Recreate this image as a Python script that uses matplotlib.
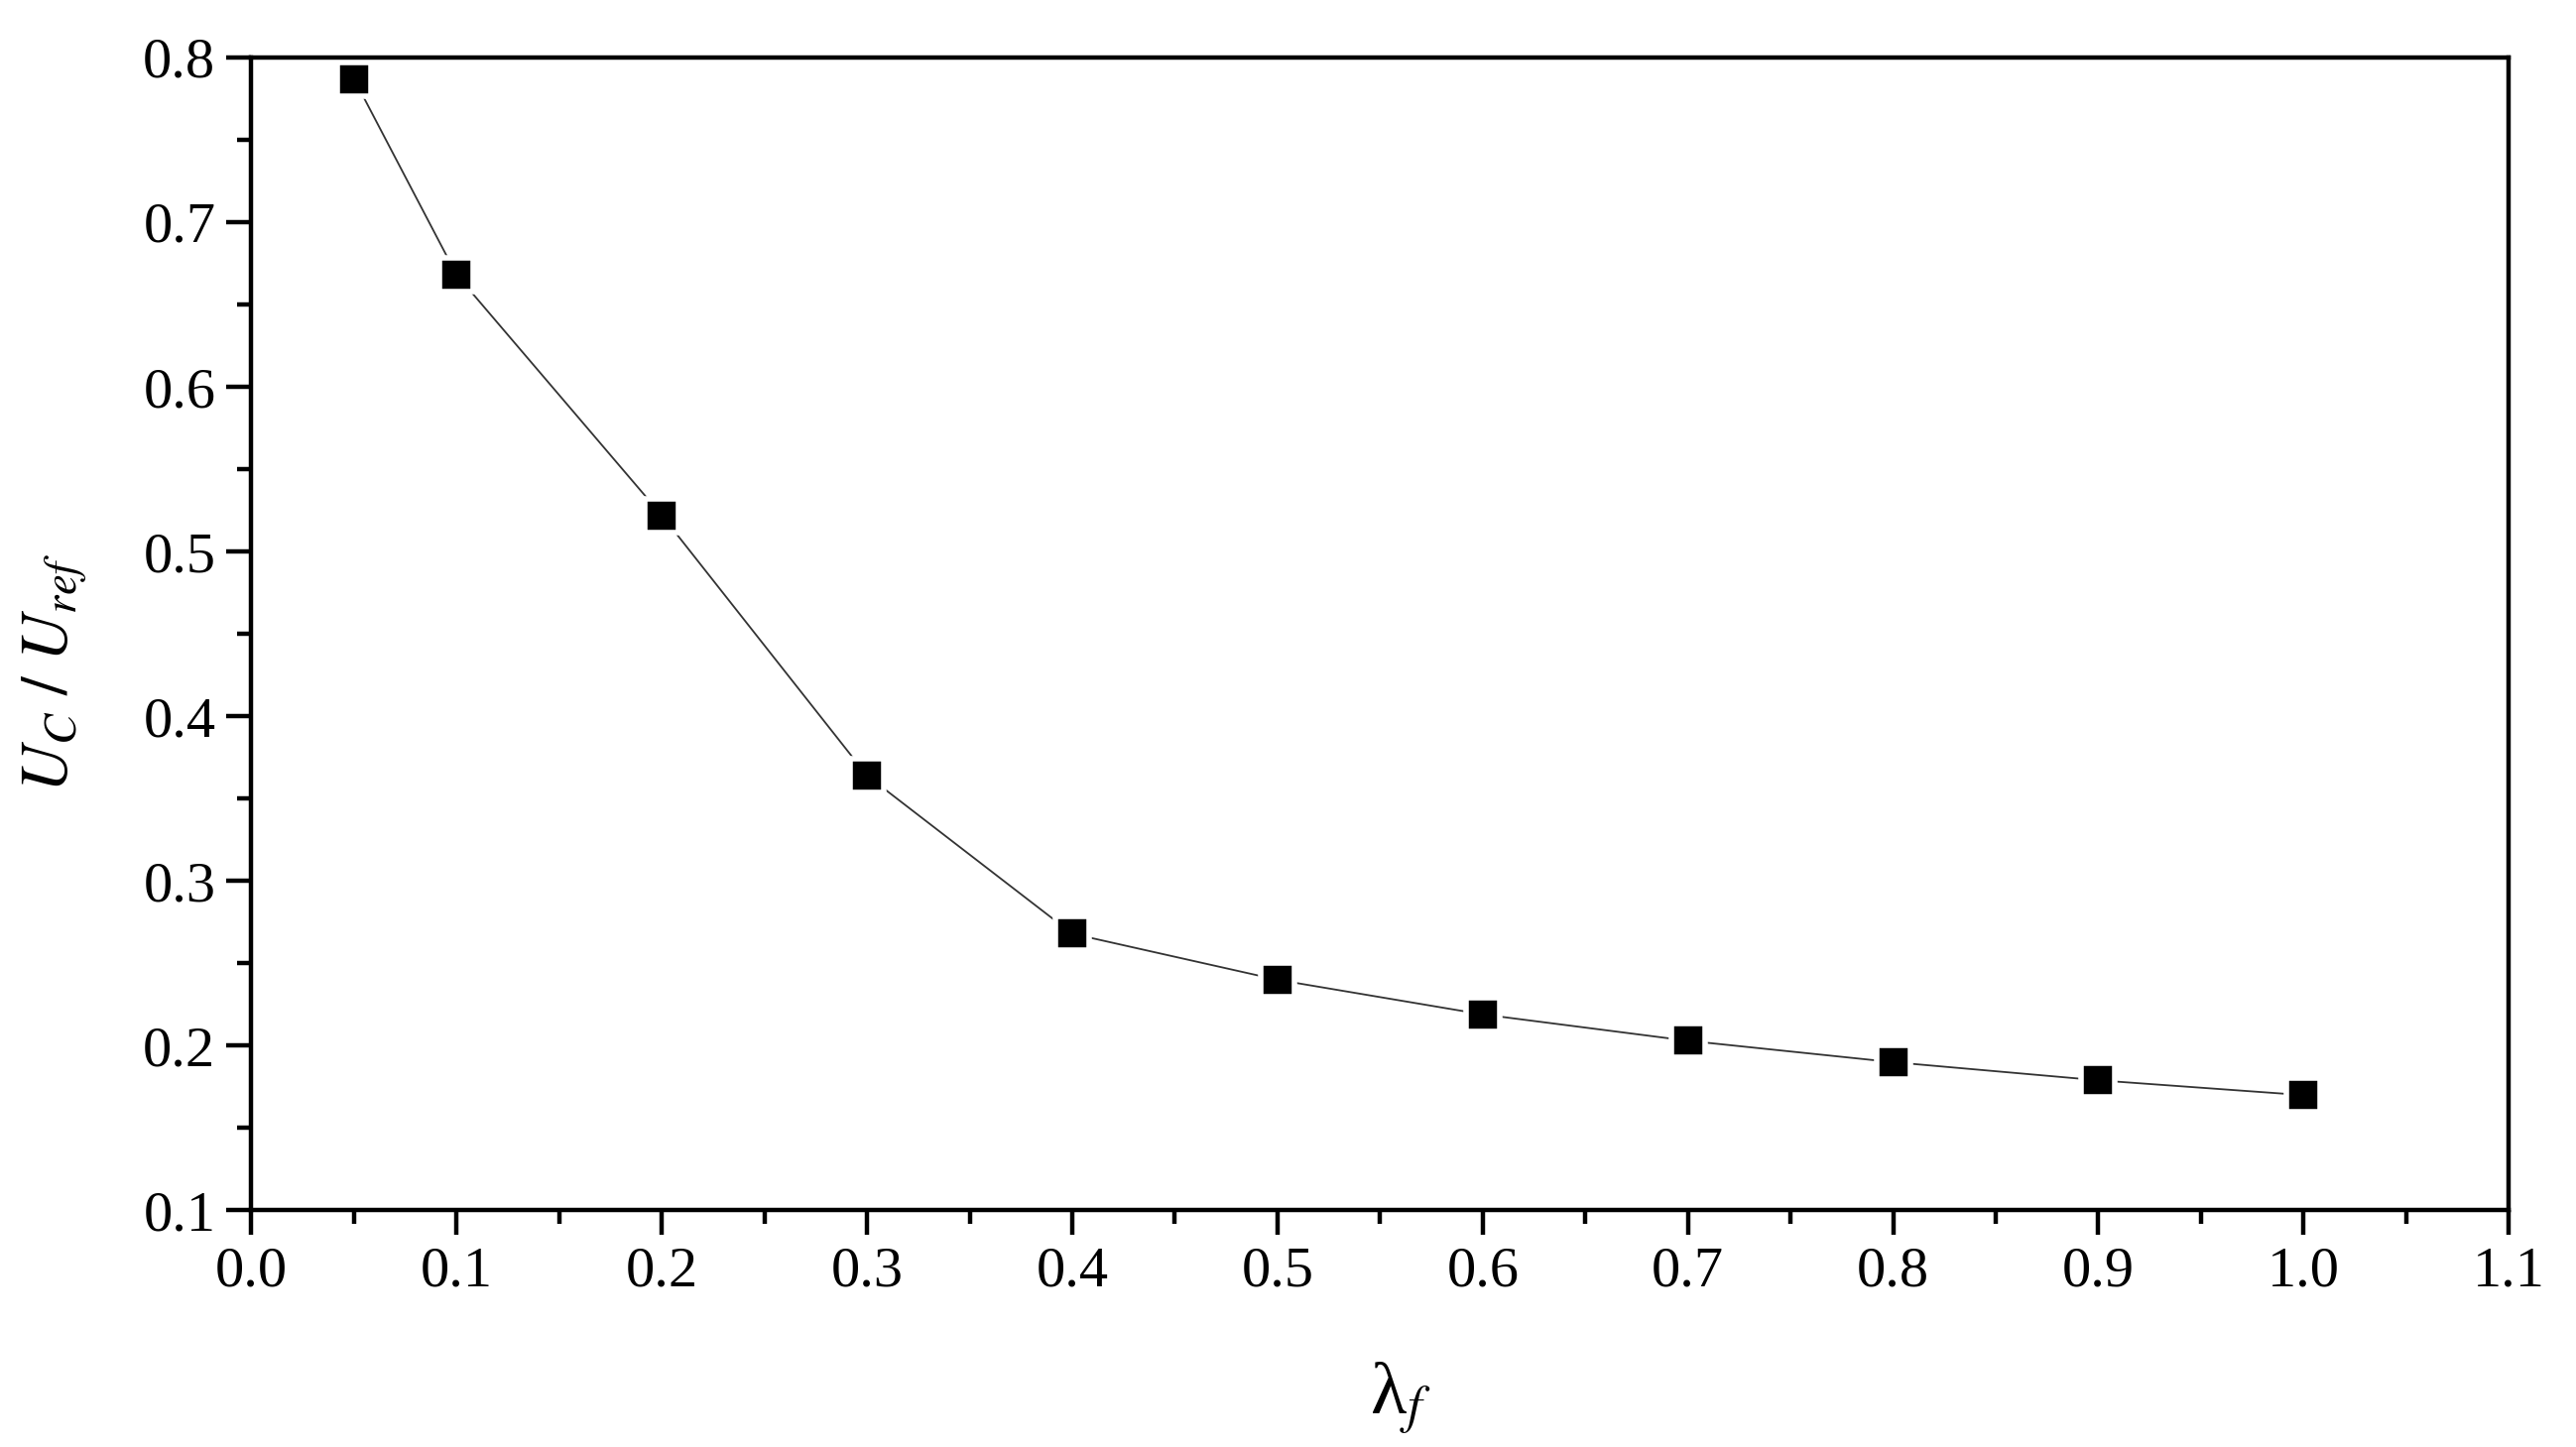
import numpy as np
import matplotlib
matplotlib.use("Agg")
import matplotlib.pyplot as plt
from matplotlib.ticker import MultipleLocator

# values
lam_f = [0.05, 0.1, 0.2, 0.3, 0.4, 0.5, 0.6, 0.7, 0.8, 0.9, 1.0]
uc_uref = [0.787, 0.668, 0.522, 0.364, 0.268, 0.240, 0.219, 0.203, 0.190, 0.179, 0.170]

plt.rcParams['font.family'] = ['Liberation Serif', 'DejaVu Serif']
plt.rcParams['mathtext.fontset'] = 'stix'

fig = plt.figure(figsize=(25.97, 14.59), dpi=100)
ax = fig.add_axes([0.0976, 0.1635, 0.8763, 0.7968])

ax.plot(lam_f, uc_uref, color='#333333', lw=1.3, marker='s', ms=25,
        mfc='black', mec='white', mew=4)

ax.set_xlim(0.0, 1.1)
ax.set_ylim(0.1, 0.8)
ax.xaxis.set_major_locator(MultipleLocator(0.1))
ax.xaxis.set_minor_locator(MultipleLocator(0.05))
ax.yaxis.set_major_locator(MultipleLocator(0.1))
ax.yaxis.set_minor_locator(MultipleLocator(0.05))
ax.xaxis.set_major_formatter(plt.FormatStrFormatter('%.1f'))
ax.yaxis.set_major_formatter(plt.FormatStrFormatter('%.1f'))

for s in ax.spines.values():
    s.set_linewidth(3.2)
ax.tick_params(which='both', direction='out', width=3.2, top=False, right=False)
ax.tick_params(which='major', length=18, labelsize=42, pad=8)
ax.tick_params(which='minor', length=10)

ax.set_xlabel('λ$_f$', fontsize=54)
ax.set_ylabel(r'$U_C\ /\ U_{ref}$', fontsize=48)
ax.xaxis.set_label_coords(0.509, -0.13)
ax.yaxis.set_label_coords(-0.072, 0.466)

fig.savefig('out.png', dpi=100, facecolor='white')
